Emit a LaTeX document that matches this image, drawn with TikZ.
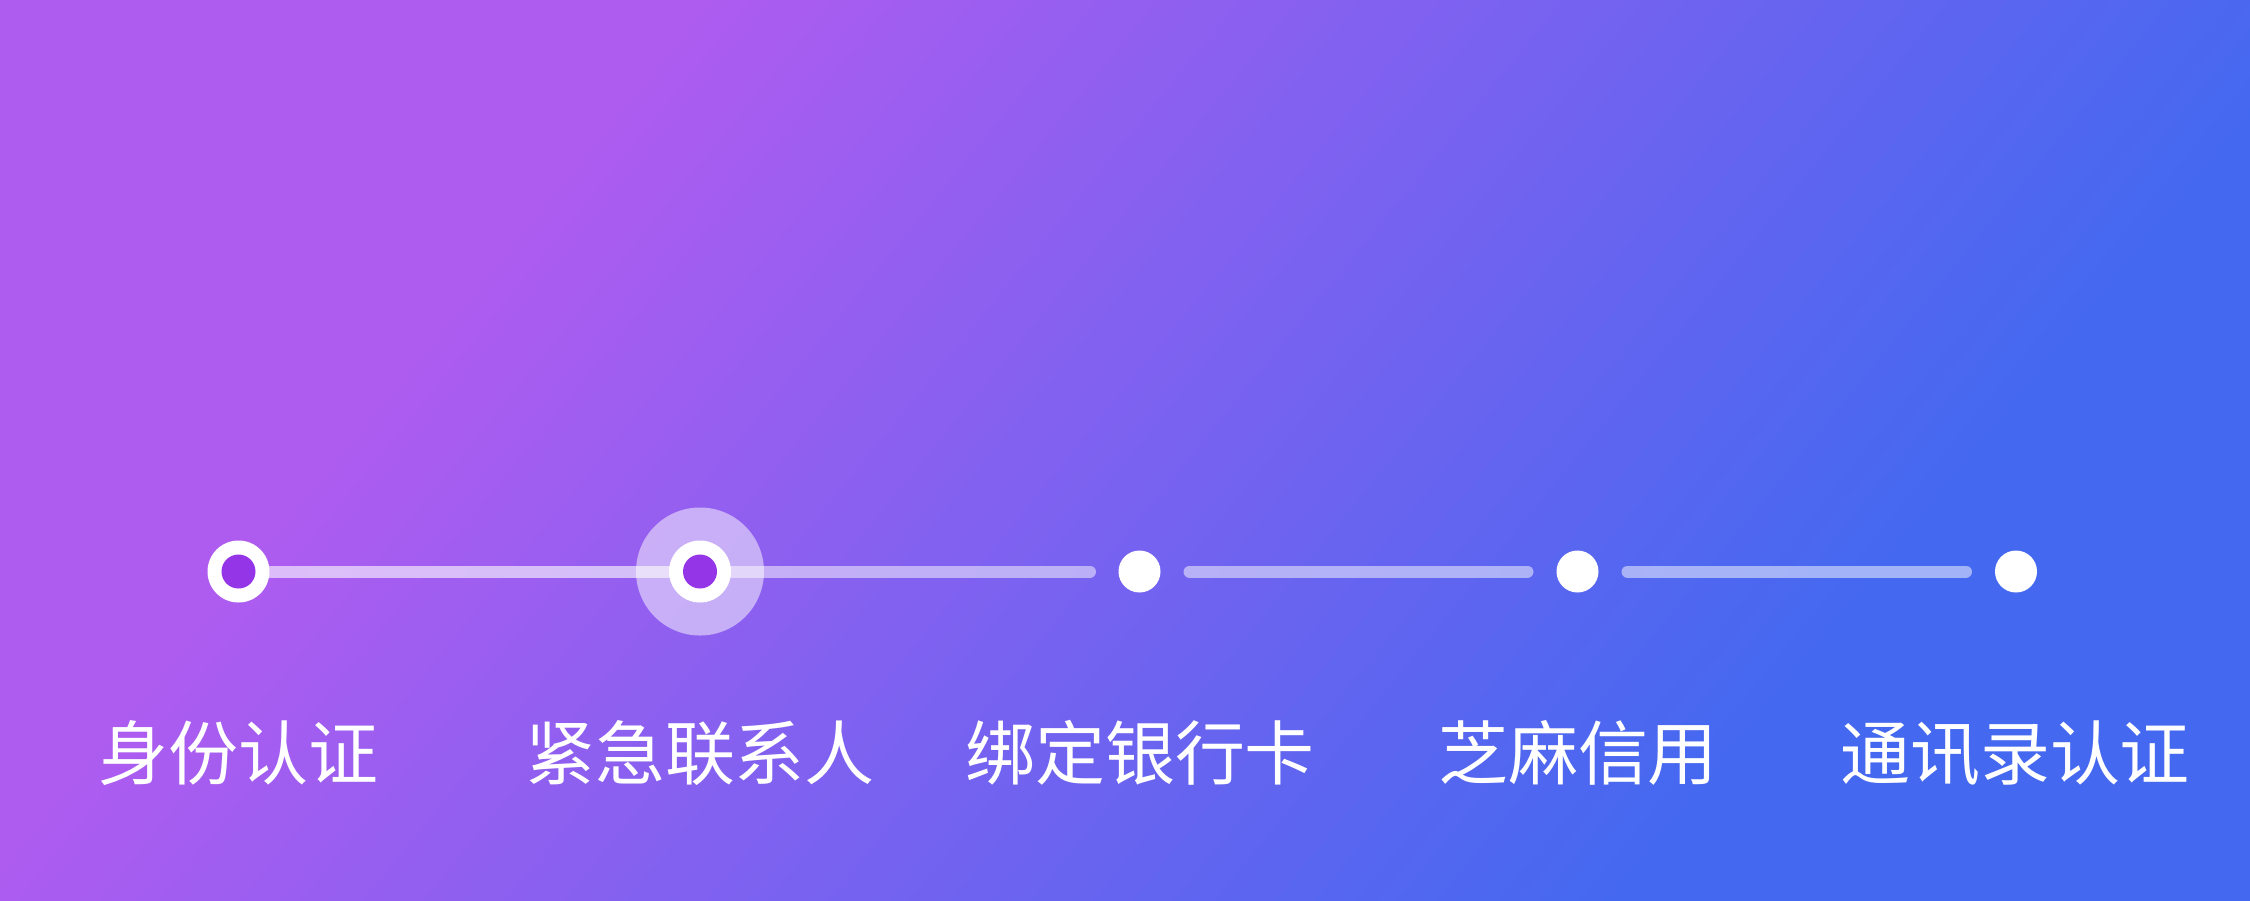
\documentclass[tikz,border=0pt]{standalone}
\usepackage{fontspec}
\newfontfamily\cjk{Noto Sans CJK SC}
\definecolor{bgpurple}{HTML}{AE5CF0}
\definecolor{bgblue}{HTML}{4568F0}
\definecolor{dotpurple}{HTML}{9535E8}
\tikzset{
  halo/.style={circle, fill=white, fill opacity=0.5, draw=none, minimum size=25.6bp, inner sep=0pt},
  ring/.style={circle, fill=white, draw=none, minimum size=12.4bp, inner sep=0pt},
  innerdot/.style={circle, fill=dotpurple, draw=none, minimum size=6.8bp, inner sep=0pt},
  stepdot/.style={circle, fill=white, draw=none, minimum size=8.4bp, inner sep=0pt},
  track/.style={draw=white, draw opacity=0.5, line width=2.4bp, line cap=round},
  steplabel/.style={anchor=base, text=white, inner sep=0pt, font=\cjk\fontsize{14.05}{17}\selectfont},
}
\begin{document}
\begin{tikzpicture}[x=0.2bp,y=0.2bp]
\useasboundingbox (0,0) rectangle (2250,900);
% background gradient
\begin{scope}
  \clip (0,0) rectangle (2250,900);
  \begin{scope}[shift={(1125,450)}, rotate=-39.2]
    \fill[bgpurple] (-1300,-1300) rectangle (-603,1300);
    \fill[bgblue] (651,-1300) rectangle (1300,1300);
    \foreach \i in {0,...,79} {
      \pgfmathsetmacro\ua{-605+\i*15.725}
      \pgfmathsetmacro\ub{\ua+17.5}
      \pgfmathsetmacro\pc{100-(\i+0.5)*1.25}
      \fill[bgpurple!\pc!bgblue] (\ua,-1300) rectangle (\ub,1300);
    }
  \end{scope}
\end{scope}

% step markers
\node[halo] (h2) at (700,328.5) {};
\node[ring] (s1) at (238.5,328.5) {};
\node[innerdot] (d1) at (s1.center) {};
\node[ring] (s2) at (700,328.5) {};
\node[innerdot] (d2) at (s2.center) {};
\node[stepdot] (s3) at (1139.5,328.5) {};
\node[stepdot] (s4) at (1577.5,328.5) {};
\node[stepdot] (s5) at (2016,328.5) {};

% tracks
\draw[track, draw opacity=0.6] (s1) -- (s2);
\draw[track, shorten >=5.5bp] (s2) -- (s3);
\draw[track, shorten <=5.6bp, shorten >=5.6bp] (s3) -- (s4);
\draw[track, shorten <=5.6bp, shorten >=5.6bp] (s4) -- (s5);

% labels
\node[steplabel] (l1) at (238.5,121) {身份认证};
\node[steplabel] (l2) at (700,121) {紧急联系人};
\node[steplabel] (l3) at (1140,121) {绑定银行卡};
\node[steplabel] (l4) at (1578,121) {芝麻信用};
\node[steplabel] (l5) at (2015,121) {通讯录认证};
\end{tikzpicture}
\end{document}
